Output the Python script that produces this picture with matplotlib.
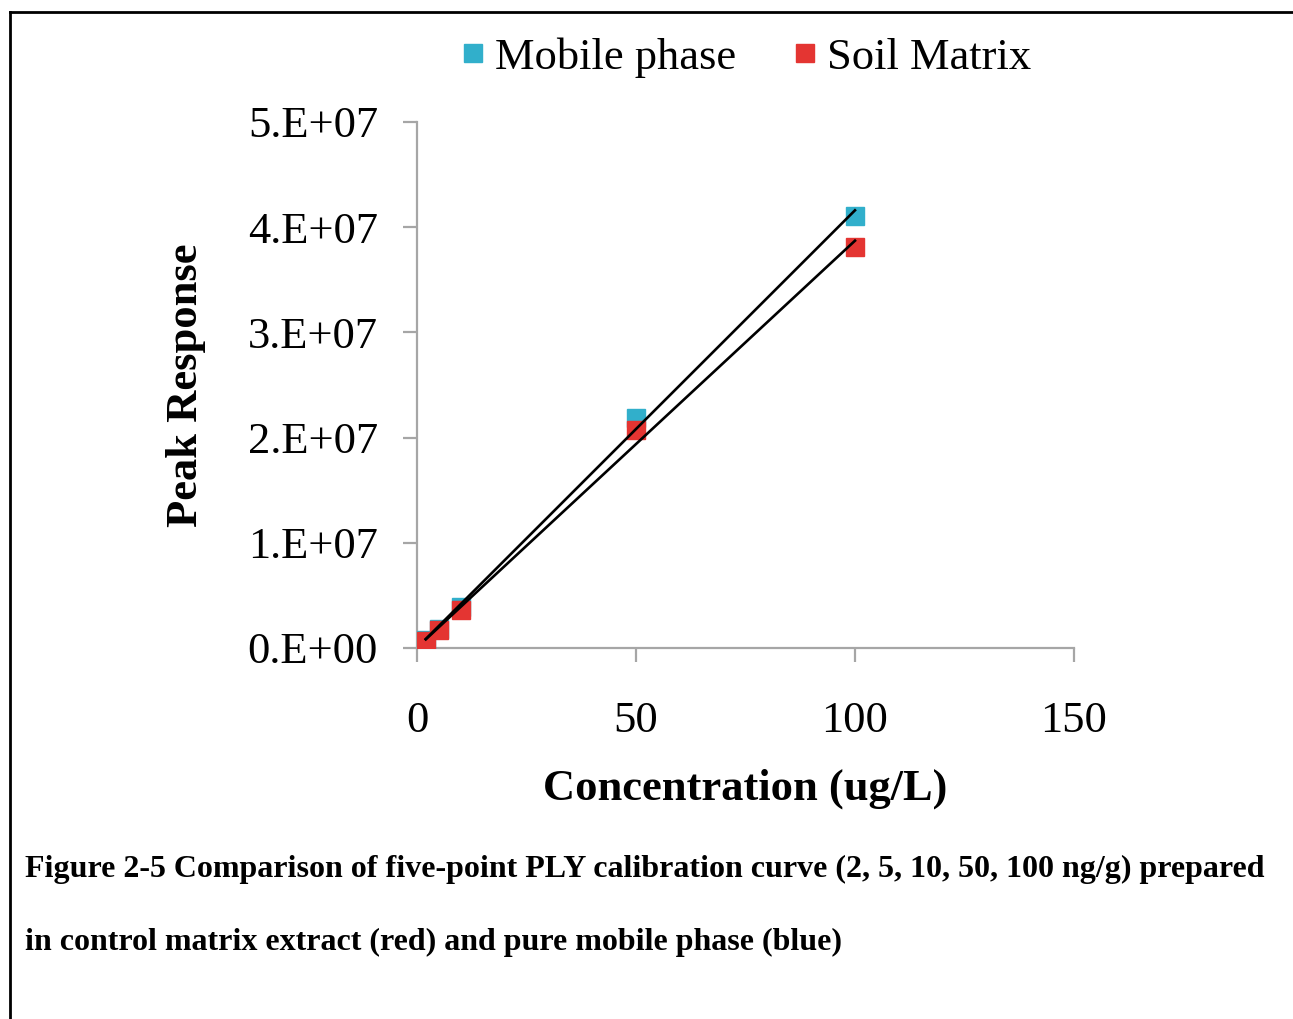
import numpy as np
import matplotlib.pyplot as plt
from matplotlib.lines import Line2D

# calibration data
conc = np.array([2, 5, 10, 50, 100])
mobile_phase = np.array([0.08, 0.184, 0.39, 2.19, 4.11]) * 1e7
soil_matrix = np.array([0.067, 0.174, 0.36, 2.07, 3.81]) * 1e7

x_ticks = [0, 50, 100, 150]
y_ticks = [0, 1e7, 2e7, 3e7, 4e7, 5e7]
y_labels = ['0.E+00', '1.E+07', '2.E+07', '3.E+07', '4.E+07', '5.E+07']

blue = '#31AFCB'
red = '#E43532'
grey = '#A6A6A6'

plt.rcParams['font.family'] = ['Liberation Serif', 'DejaVu Serif']

fig = plt.figure(figsize=(12.93, 10.19), dpi=100)
ax = fig.add_axes([0.3225, 0.3641, 0.5081, 0.5162])

ax.plot(conc, mobile_phase, 's', color=blue, markersize=13, label='Mobile phase', zorder=3)
ax.plot(conc, soil_matrix, 's', color=red, markersize=13, label='Soil Matrix', zorder=4)

# linear trendlines
for series in (mobile_phase, soil_matrix):
    k, b = np.polyfit(conc, series, 1)
    xs = np.array([conc.min(), conc.max()])
    ax.plot(xs, k * xs + b, color='black', linewidth=1.9, zorder=5)

ax.set_xlim(0, 150)
ax.set_ylim(0, 5e7)
ax.set_xticks(x_ticks)
ax.set_yticks(y_ticks)
ax.set_yticklabels(y_labels)
ax.tick_params(labelsize=32, length=10, width=1.6, color=grey)
ax.tick_params(axis='x', pad=28)
ax.tick_params(axis='y', pad=18)
for side in ('top', 'right'):
    ax.spines[side].set_visible(False)
for side in ('left', 'bottom'):
    ax.spines[side].set_color(grey)
    ax.spines[side].set_linewidth(1.6)

ax.set_xlabel('Concentration (ug/L)', fontsize=32, fontweight='bold', labelpad=20)
ax.set_ylabel('Peak Response', fontsize=32, fontweight='bold', labelpad=30)

ax.legend(loc='lower center', bbox_to_anchor=(0.50, 1.008), ncol=2, frameon=False,
          fontsize=32, handlelength=0.6, handletextpad=0.2, columnspacing=1.25,
          markerscale=1.0)

fig.text(0.019, 0.147, 'Figure 2-5 Comparison of five-point PLY calibration curve (2, 5, 10, 50, 100 ng/g) prepared',
         fontsize=23.05, fontweight='bold', va='center')
fig.text(0.019, 0.075, 'in control matrix extract (red) and pure mobile phase (blue)',
         fontsize=23.05, fontweight='bold', va='center')

# page border (left and top)
fig.add_artist(Line2D([10 / 1293, 10 / 1293], [0, 1 - 12 / 1019], color='black', linewidth=2,
                      transform=fig.transFigure))
fig.add_artist(Line2D([10 / 1293, 1], [1 - 12 / 1019, 1 - 12 / 1019], color='black', linewidth=2,
                      transform=fig.transFigure))

fig.savefig('out.png', dpi=100)
